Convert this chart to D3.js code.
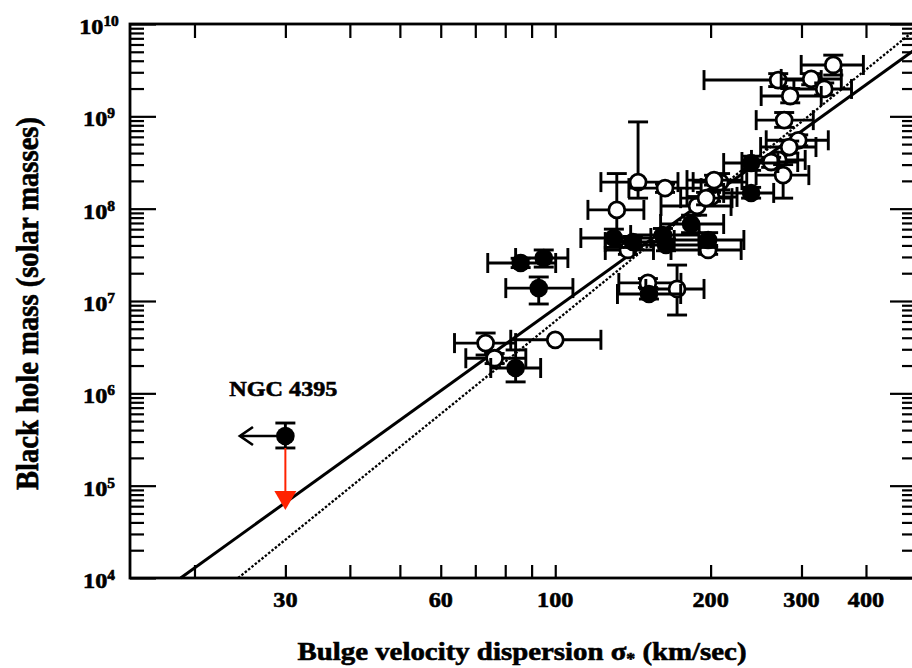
<!DOCTYPE html>
<html><head><meta charset="utf-8">
<script src="https://cdn.jsdelivr.net/npm/d3@7"></script>
<style>
body{margin:0;background:#fff}
svg text{font-family:"Liberation Serif","Times New Roman",serif;font-weight:bold;fill:#000;stroke:#000;stroke-width:0.6px}
</style>
</head><body>
<svg id="chart" width="912" height="668"></svg>
<script>
// ---------- data ----------
const xDomain = [15, 500];            // km/s
const yDomain = [1e4, 1e10];          // solar masses
const xTickValues = [20,30,40,50,60,70,80,90,100,200,300,400,500];
const xTickLabels = [30,60,100,200,300,400];
const yExponents = [4,5,6,7,8,9,10];

// [sigma, mass, sigmaLow, sigmaHigh, massLow, massHigh]
const openPoints = [
  [73.3, 3.5e6, 63.8, 83.8, 2.6e6, 4.5e6],
  [76.3, 2.4e6, 67.1, 87.7, 2.1e6, 2.7e6],
  [100, 3.8e6, 82, 122.6, 3.8e6, 3.8e6],
  [131.6, 9.7e7, 115.7, 148.5, 4.5e7, 2.4e8],
  [144.7, 1.94e8, 122.6, 172.9, 1.3e8, 8.7e8],
  [163.2, 1.67e8, 138.9, 191.7, 1.5e8, 1.85e8],
  [188.3, 1.07e8, 160.3, 219.1, 8.5e7, 1.35e8],
  [200.4, 1.34e8, 180, 225, 1.2e8, 1.5e8],
  [208.6, 1.94e8, 185, 235, 1.6e8, 2.4e8],
  [138.3, 3.57e7, 125, 155, 3.2e7, 4.0e7],
  [151.2, 1.57e7, 132.8, 175.2, 1.4e7, 1.75e7],
  [172.2, 1.35e7, 149.8, 194.2, 7.05e6, 2.45e7],
  [197.8, 3.57e7, 167.6, 229.2, 3.2e7, 4.0e7],
  [270.4, 2.47e9, 194.2, 327.6, 2.1e9, 2.9e9],
  [313.3, 2.54e9, 274, 358.3, 2.2e9, 2.9e9],
  [345.7, 3.6e9, 299.6, 395.4, 2.8e9, 4.6e9],
  [332, 1.98e9, 290, 375, 1.7e9, 2.3e9],
  [285.3, 1.66e9, 250.6, 327.6, 1.4e9, 2.0e9],
  [277.7, 9.1e8, 245.1, 316.2, 7.6e8, 1.1e9],
  [295.6, 5.5e8, 256.3, 338.1, 4.8e8, 6.3e8],
  [284, 4.65e8, 250, 320, 4.0e8, 5.4e8],
  [270.4, 3.37e8, 240, 305, 3.0e8, 3.8e8],
  [262, 3.2e8, 230, 295, 2.8e8, 3.6e8],
  [276.4, 2.31e8, 245, 310, 1.3e8, 3.0e8],
  [203.1, 2.04e8, 180, 230, 1.8e8, 2.3e8],
  [196, 1.3e8, 175, 220, 1.1e8, 1.5e8]
];
const filledPoints = [
  [30, 3.45e5, 30, 30, 2.56e5, 4.77e5],
  [83.8, 1.88e6, 75, 93.7, 1.33e6, 2.95e6],
  [85.7, 2.58e7, 74, 100.2, 2.3e7, 2.9e7],
  [95, 2.92e7, 83.8, 105.8, 2.33e7, 3.57e7],
  [92.9, 1.38e7, 80.2, 108.2, 9.28e6, 1.82e7],
  [129.9, 4.81e7, 112.1, 153.2, 3.8e7, 6.0e7],
  [141.4, 4.35e7, 125, 160, 3.8e7, 5.0e7],
  [161.7, 5.18e7, 140, 190, 4.4e7, 6.1e7],
  [163.9, 4.04e7, 142, 190, 3.5e7, 4.7e7],
  [183.3, 6.82e7, 160, 212, 5.5e7, 8.5e7],
  [197.8, 4.58e7, 170, 232, 3.8e7, 5.5e7],
  [151.9, 1.19e7, 132, 175, 1.05e7, 1.35e7],
  [239.6, 3.12e8, 212, 270, 2.6e8, 3.7e8],
  [239.6, 1.48e8, 212, 265, 1.3e8, 1.7e8]
];
const ngcLabel = "NGC 4395";
const ngcPoint = [30, 3.45e5];
const ngcLeftArrowSigma = 24.5;
const ngcDownArrowMass = 5.45e4;
const solidFitLine = [[18.8, 1e4], [500, 5.4e9]];
const dottedFitLine = [[24.3, 1e4], [500, 8.8e9]];
const xTitle = "Bulge velocity dispersion σ";
const xTitleSub = "*";
const xTitleEnd = " (km/sec)";
const yTitle = "Black hole mass (solar masses)";

// ---------- layout ----------
const L = 130, R = 916, T = 24, B = 578;
const SX = 1.1;
const x = d3.scaleLog().domain(xDomain).range([L, R]);
const y = d3.scaleLog().domain(yDomain).range([B, T]);
const svg = d3.select('#chart');

// fit lines
const line = d3.line().x(d => x(d[0])).y(d => y(d[1]));
svg.append('path').attr('d', line(solidFitLine)).attr('fill','none')
  .attr('stroke','#000').attr('stroke-width',3);
svg.append('path').attr('d', line(dottedFitLine)).attr('fill','none')
  .attr('stroke','#000').attr('stroke-width',2.3).attr('stroke-dasharray','2.5,1.8');

// points
function drawPoints(data, filled){
  const g = svg.append('g');
  g.selectAll('g.pt').data(data).join('g').attr('class','pt').each(function(d){
    const [s,m,sl,sh,ml,mh] = d;
    const cx = x(s), cy = y(m);
    const p = d3.select(this);
    const seg = (x1,y1,x2,y2) => p.append('line').attr('x1',x1).attr('y1',y1).attr('x2',x2).attr('y2',y2)
      .attr('stroke','#000').attr('stroke-width',2.9);
    if (sl !== sh){
      seg(x(sl),cy,x(sh),cy);
      seg(x(sl),cy-10,x(sl),cy+10);
      seg(x(sh),cy-10,x(sh),cy+10);
    }
    if (ml !== mh){
      seg(cx,y(ml),cx,y(mh));
      seg(cx-10,y(ml),cx+10,y(ml));
      seg(cx-10,y(mh),cx+10,y(mh));
    }
    p.append('circle').attr('cx',cx).attr('cy',cy)
      .attr('r', filled ? 9.3 : 8)
      .attr('fill', filled ? '#000' : '#fff')
      .attr('stroke','#000').attr('stroke-width', filled ? 0 : 2.8);
  });
}
drawPoints(openPoints, false);
drawPoints(filledPoints, true);

// NGC 4395 arrows
const nx = x(ngcPoint[0]), ny = y(ngcPoint[1]);
const ax = x(ngcLeftArrowSigma);
svg.append('line').attr('x1',nx-8).attr('y1',ny).attr('x2',ax).attr('y2',ny)
  .attr('stroke','#000').attr('stroke-width',2.7);
svg.append('path').attr('d',`M${ax+13},${ny-9}L${ax},${ny}L${ax+13},${ny+9}`)
  .attr('fill','none').attr('stroke','#000').attr('stroke-width',2.7);
const ty = y(ngcDownArrowMass);
svg.append('line').attr('x1',nx).attr('y1',y(filledPoints[0][4])).attr('x2',nx).attr('y2',ty-17)
  .attr('stroke','#ff2200').attr('stroke-width',2);
svg.append('path').attr('d',`M${nx-11},${ty-19}L${nx+11},${ty-19}L${nx},${ty}Z`)
  .attr('fill','#ff2200');
svg.append('g').attr('transform',`translate(${nx-2},396) scale(${SX},1)`)
  .append('text').attr('text-anchor','middle').attr('font-size',22).text(ngcLabel);

// axes
const yMinor = [];
yExponents.slice(0,-1).forEach(e => { for (let k=2;k<=9;k++) yMinor.push(k*Math.pow(10,e)); });
const yMajor = yExponents.map(e => Math.pow(10,e));
function styleAxis(g){ g.select('.domain').remove(); g.selectAll('line').attr('stroke','#000').attr('stroke-width',2.2); g.selectAll('text').remove(); }
svg.append('g').attr('transform',`translate(0,${B})`).call(d3.axisBottom(x).tickValues(xTickValues).tickSize(-13)).call(styleAxis);
svg.append('g').attr('transform',`translate(0,${T})`).call(d3.axisTop(x).tickValues(xTickValues).tickSize(-14)).call(styleAxis);
svg.append('g').attr('transform',`translate(${L},0)`).call(d3.axisLeft(y).tickValues(yMajor).tickSize(-26)).call(styleAxis);
svg.append('g').attr('transform',`translate(${L},0)`).call(d3.axisLeft(y).tickValues(yMinor).tickSize(-14)).call(styleAxis);
svg.append('g').attr('transform',`translate(${R},0)`).call(d3.axisRight(y).tickValues(yMajor).tickSize(-26)).call(styleAxis);
svg.append('g').attr('transform',`translate(${R},0)`).call(d3.axisRight(y).tickValues(yMinor).tickSize(-14)).call(styleAxis);
svg.append('rect').attr('x',L).attr('y',T).attr('width',R-L).attr('height',B-T)
  .attr('fill','none').attr('stroke','#000').attr('stroke-width',2.8);

// tick labels
xTickLabels.forEach(v => {
  svg.append('g').attr('transform',`translate(${x(v)},607) scale(${SX},1)`)
    .append('text').attr('text-anchor','middle').attr('font-size',22).text(v);
});
yExponents.forEach(e => {
  const t = svg.append('g').attr('transform',`translate(99,${y(Math.pow(10,e))+10}) scale(${SX},1)`)
    .append('text').attr('text-anchor','middle').attr('font-size',22);
  t.append('tspan').text('10');
  t.append('tspan').attr('font-size',14).attr('dy',-8).text(e);
});

// titles
const xt = svg.append('text').attr('x',522).attr('y',660).attr('text-anchor','middle')
  .attr('font-size',26).attr('textLength',449).attr('lengthAdjust','spacingAndGlyphs');
xt.append('tspan').text(xTitle);
xt.append('tspan').attr('font-size',16).attr('dy',4).text(xTitleSub);
xt.append('tspan').attr('dy',-4).text(xTitleEnd);
svg.append('g').attr('transform',`translate(38,303.5) scale(${SX},1) rotate(-90)`)
  .append('text').attr('text-anchor','middle').attr('font-size',28)
  .attr('textLength',373).attr('lengthAdjust','spacingAndGlyphs').text(yTitle);
</script>
</body></html>
